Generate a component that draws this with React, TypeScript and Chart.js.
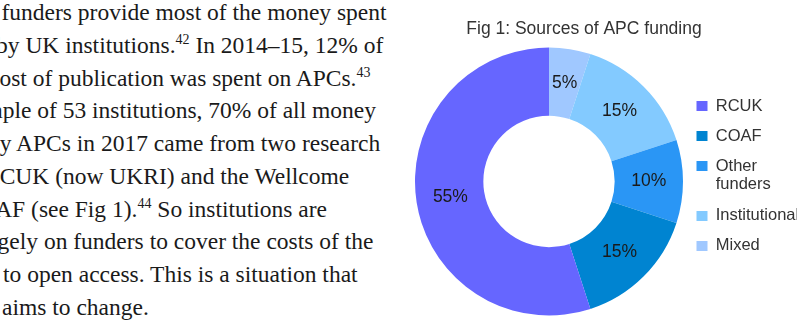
import { useEffect, useRef } from 'react';
import { Chart, registerables } from 'chart.js';

Chart.register(...registerables);

// ---- chart data (legend order) ----
const categories: (string | string[])[] = ['RCUK', 'COAF', ['Other', 'funders'], 'Institutional', 'Mixed'];
const shares = [55, 15, 10, 15, 5];
const sliceColors = ['#6666ff', '#0084d1', '#2a96f5', '#83caff', '#a0c8ff'];
const chartTitle = 'Fig 1: Sources of APC funding';

// ---- surrounding paragraph (visible part, clipped at the left) ----
const paragraphLines: [string, string, string][] = [
  ['funders provide most of the money spent', '', ''],
  ['by UK institutions.', '42', ' In 2014–15, 12% of'],
  ['cost of publication was spent on APCs.', '43', ''],
  ['sample of 53 institutions, 70% of all money', '', ''],
  ['by APCs in 2017 came from two research', '', ''],
  ['RCUK (now UKRI) and the Wellcome', '', ''],
  ['COAF (see Fig 1).', '44', ' So institutions are'],
  ['largely on funders to cover the costs of the', '', ''],
  ['to open access. This is a situation that', '', ''],
  ['aims to change.', '', ''],
];
const lineShift = [1.5, -4, -11, -35.2, -12, -16, -37.5, -26.8, 3, 2];

// title centred over the whole figure (canvas), as in the original
const figureTitlePlugin = {
  id: 'figureTitle',
  afterDraw(chart: any) {
    const { ctx } = chart;
    ctx.save();
    ctx.font = '17.5px "Liberation Sans"';
    ctx.fillStyle = '#333333';
    ctx.textAlign = 'center';
    ctx.textBaseline = 'middle';
    ctx.fillText(chartTitle, chart.width / 2, 29);
    ctx.restore();
  },
};

const sliceLabelPlugin = {
  id: 'sliceLabels',
  afterDatasetsDraw(chart: any) {
    const { ctx } = chart;
    const meta = chart.getDatasetMeta(0);
    const values = chart.data.datasets[0].data as number[];
    ctx.save();
    ctx.font = '17.5px "Liberation Sans"';
    ctx.fillStyle = '#1a1a1a';
    ctx.textAlign = 'center';
    ctx.textBaseline = 'middle';
    meta.data.forEach((arc: any, i: number) => {
      const p = arc.tooltipPosition();
      ctx.fillText(`${values[i]}%`, p.x, p.y);
    });
    ctx.restore();
  },
};

export default function App() {
  const canvasRef = useRef<HTMLCanvasElement | null>(null);

  useEffect(() => {
    if (!canvasRef.current) return;
    // slices run clockwise from 12 o'clock in reverse legend order
    const labels = categories.slice().reverse();
    const data = shares.slice().reverse();
    const colors = sliceColors.slice().reverse();
    const chart = new Chart(canvasRef.current, {
      type: 'doughnut',
      data: {
        labels: labels as any,
        datasets: [
          {
            data,
            backgroundColor: colors,
            borderWidth: 0,
            hoverBorderWidth: 0,
            hoverOffset: 0,
          },
        ],
      },
      options: {
        responsive: false,
        maintainAspectRatio: false,
        animation: false,
        events: [],
        cutout: '49%',
        layout: { padding: { top: 36.5, left: 50, right: 0, bottom: 14.5 } },
        plugins: {
          title: { display: false },
          // blank band above the plot area (the legend spans the full height)
          subtitle: {
            display: true,
            position: 'top',
            text: '',
            padding: 0,
            font: { size: 10, lineHeight: '11px' as any },
          },
          legend: {
            display: true,
            position: 'right',
            align: 'center',
            reverse: true,
            maxWidth: 120,
            labels: {
              boxWidth: 11,
              boxHeight: 10,
              padding: 13.5,
              color: '#333333',
              font: { family: 'Liberation Sans', size: 16.5, lineHeight: 1.1 },
            },
          },
          tooltip: { enabled: false },
        },
      },
      plugins: [sliceLabelPlugin, figureTitlePlugin],
    });
    return () => chart.destroy();
  }, []);

  return (
    <div
      style={{
        position: 'absolute',
        left: 0,
        top: 0,
        width: 797,
        height: 330,
        overflow: 'hidden',
        background: '#ffffff',
      }}
    >
      <div
        style={{
          position: 'absolute',
          left: 0,
          top: -3.6,
          fontFamily: '"Liberation Serif", serif',
          fontSize: 23.5,
          lineHeight: '32.7px',
          color: '#1a1a1a',
          whiteSpace: 'nowrap',
        }}
      >
        {paragraphLines.map((ln, i) => (
          <div key={i} style={{ position: 'relative', left: lineShift[i], height: 32.7 }}>
            {ln[0]}
            {ln[1] ? (
              <span
                style={{
                  fontSize: 14,
                  position: 'relative',
                  top: -9,
                  lineHeight: 0,
                  verticalAlign: 'baseline',
                }}
              >
                {ln[1]}
              </span>
            ) : null}
            {ln[2]}
          </div>
        ))}
      </div>
      <canvas
        ref={canvasRef}
        width={438}
        height={330}
        style={{ position: 'absolute', left: 365, top: 0, display: 'block' }}
      />
    </div>
  );
}
